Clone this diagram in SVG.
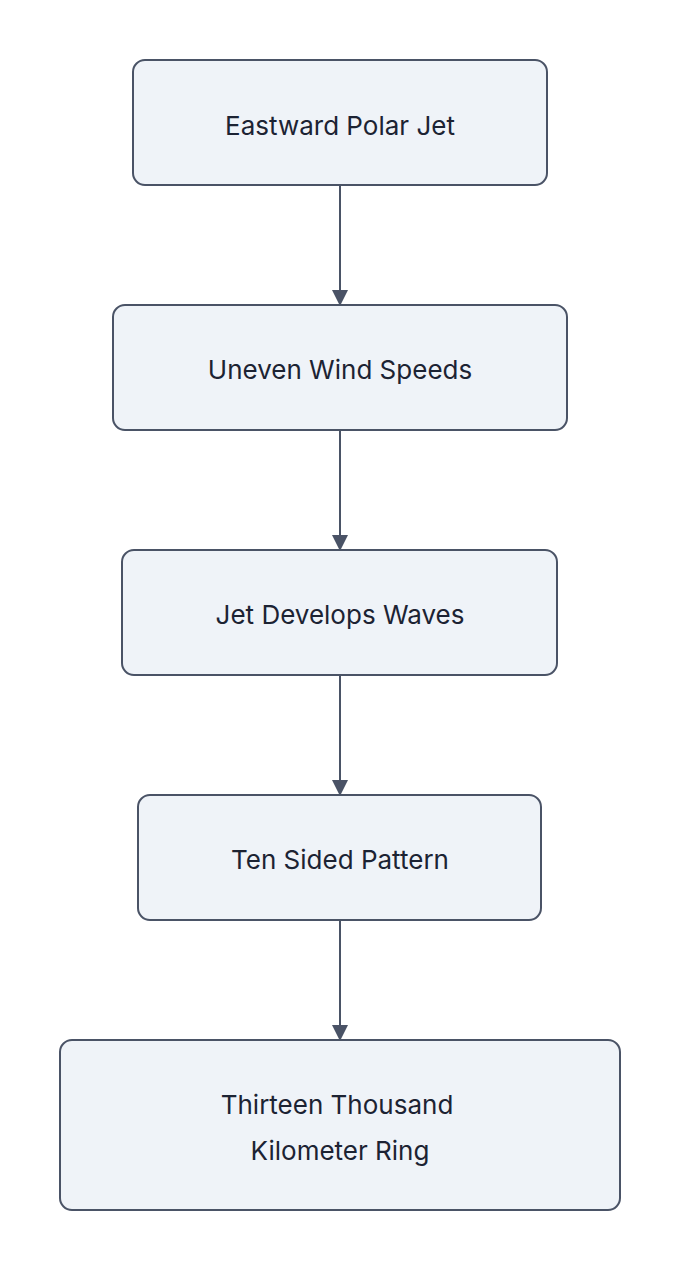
<svg xmlns="http://www.w3.org/2000/svg" width="680" height="1270" viewBox="0 0 680 1270">
<style>
.box{fill:#eff3f8;stroke:#4a5366;stroke-width:2}
.t{font-family:Inter,"Liberation Sans",sans-serif;font-size:26px;fill:#1c2333;text-anchor:middle;dominant-baseline:central}
.c{stroke:#4a5366;stroke-width:2;fill:none;marker-end:url(#a)}
</style>
<defs><marker id="a" markerWidth="16" markerHeight="16" refX="15" refY="8" orient="auto" markerUnits="userSpaceOnUse"><path d="M0,0 L16,8 L0,16 Z" fill="#4a5366"/></marker></defs>
<rect width="680" height="1270" fill="#fff"/>
<g id="connectors">
<path class="c" d="M340,185 V305"/>
<path class="c" d="M340,430 V550"/>
<path class="c" d="M340,675 V795"/>
<path class="c" d="M340,920 V1040"/>
</g>
<g id="n1"><rect class="box" x="133" y="60" width="414" height="125" rx="12"/><text class="t" x="340" y="125">Eastward Polar Jet</text></g>
<g id="n2"><rect class="box" x="113" y="305" width="454" height="125" rx="12"/><text class="t" x="340" y="369">Uneven Wind Speeds</text></g>
<g id="n3"><rect class="box" x="122" y="550" width="435" height="125" rx="12"/><text class="t" x="340" y="614">Jet Develops Waves</text></g>
<g id="n4"><rect class="box" x="138" y="795" width="403" height="125" rx="12"/><text class="t" x="340" y="859">Ten Sided Pattern</text></g>
<g id="n5"><rect class="box" x="60" y="1040" width="560" height="170" rx="12"/><text class="t" x="337" y="1104">Thirteen Thousand</text><text class="t" x="340" y="1150">Kilometer Ring</text></g>
</svg>
